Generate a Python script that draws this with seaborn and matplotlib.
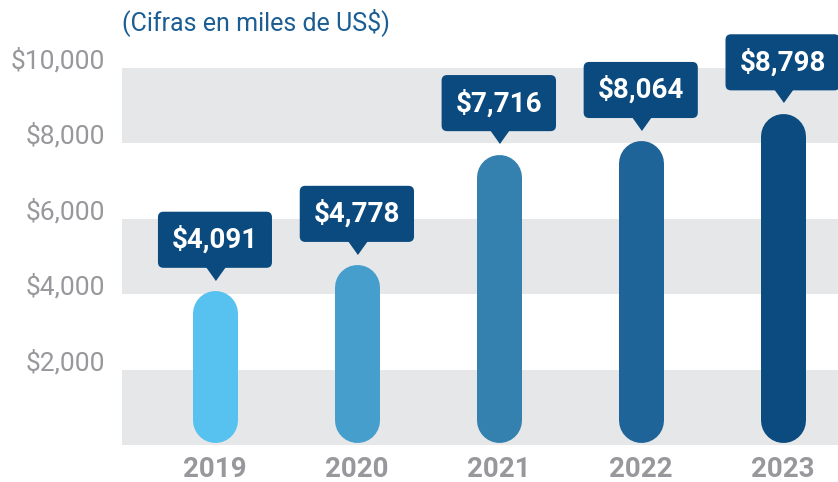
import matplotlib
matplotlib.use('Agg')
import matplotlib.pyplot as plt
import matplotlib.transforms as mtransforms
import seaborn as sns

years = ['2019', '2020', '2021', '2022', '2023']
values = [4091, 4778, 7716, 8064, 8798]
labels = ['$4,091', '$4,778', '$7,716', '$8,064', '$8,798']
bar_colors = ['#57C2EF', '#459ECB', '#3481B0', '#1F6498', '#0B4B7F']
ytick_vals = [2000, 4000, 6000, 8000, 10000]
ytick_labels = ['$2,000', '$4,000', '$6,000', '$8,000', '$10,000']

callout_color = '#0A4A7E'
tick_gray = '#98989C'
band_gray = '#E6E7E9'

sns.set_style('white')
plt.rcParams['font.family'] = ['Roboto', 'DejaVu Sans']

W, H = 838, 482
fig = plt.figure(figsize=(W / 100, H / 100), dpi=100)
ax = fig.add_axes([122 / W, 37 / H, 716 / W, 377 / H])

sns.barplot(x=years, y=values, hue=years, palette=bar_colors, legend=False,
            width=0.317, ax=ax, saturation=1)
bars = list(ax.patches)

ax.set_xlim(-0.655, 4.39)
ax.set_ylim(0, 10000)

# turn the bars into capsules: thick line with round caps
x_per_px = (4.39 + 0.655) / 716
y_per_px = 10000 / 377
for p in bars:
    x0, w, h = p.get_x(), p.get_width(), p.get_height()
    fc = p.get_facecolor()
    p.set_visible(False)
    w_px = w / x_per_px
    r = (w_px / 2) * y_per_px
    ax.plot([x0 + w / 2] * 2, [60 + r, h - r], color=fc, lw=w_px * 72 / 100,
            solid_capstyle='round', zorder=3)

# background bands
for lo in [0, 4000, 8000]:
    ax.axhspan(lo, lo + 2000, color=band_gray, zorder=0, lw=0)

# callouts
for i, (v, lab) in enumerate(zip(values, labels)):
    ax.annotate(lab, xy=(i, v), xytext=(0, 51 * 72 / 100), textcoords='offset points',
                ha='center', va='center', fontsize=20, fontweight='bold', color='white',
                bbox=dict(boxstyle='round,pad=0.5,rounding_size=0.2', fc=callout_color, ec='none'),
                annotation_clip=False, zorder=5)
    tr = mtransforms.offset_copy(ax.transData, fig=fig, x=0, y=25, units='dots')
    ax.plot([i], [v], marker=[(-10, 0), (10, 0), (0, -14)], markersize=20,
            color=callout_color, transform=tr, clip_on=False, zorder=5, lw=0)

ax.set_yticks(ytick_vals)
ax.set_yticklabels(ytick_labels)
ax.tick_params(axis='y', length=0, pad=12, labelsize=19, labelcolor=tick_gray)
ax.tick_params(axis='x', length=0, pad=8, labelsize=20, labelcolor=tick_gray)
for t in ax.get_xticklabels():
    t.set_fontweight('bold')
shift = mtransforms.ScaledTranslation(0, 7 / 72, fig.dpi_scale_trans)
for t in ax.get_yticklabels():
    t.set_transform(t.get_transform() + shift)

for s in ax.spines.values():
    s.set_visible(False)
ax.set_xlabel('')
ax.set_ylabel('')

fig.text(122 / W, 1 - 22 / H, '(Cifras en miles de US$)', fontsize=18,
         color='#1C5E94', va='center', ha='left')

fig.savefig('out.png', dpi=100)
